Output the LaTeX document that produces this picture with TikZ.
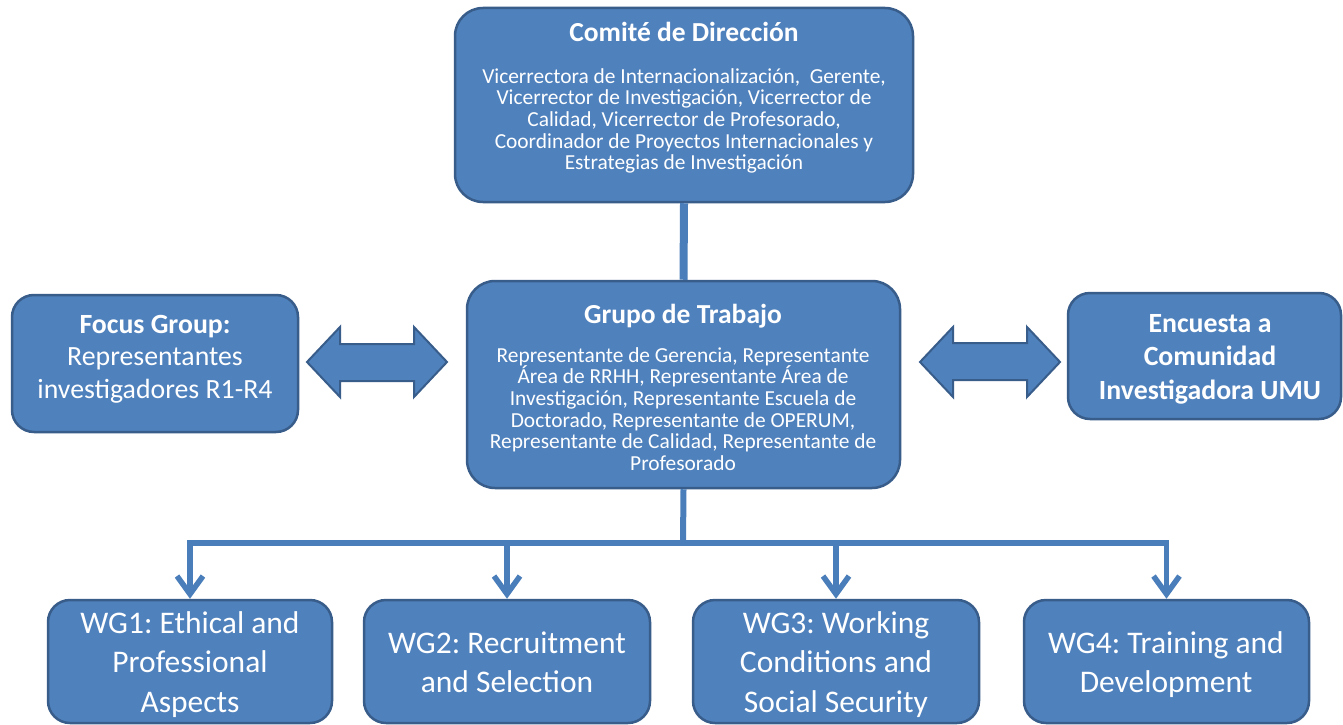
\documentclass[tikz,border=0pt]{standalone}
\usepackage{fontspec}
\setmainfont{Carlito}
\usetikzlibrary{arrows.meta}
\definecolor{boxfill}{RGB}{79,129,189}
\definecolor{boxline}{RGB}{56,93,138}
\definecolor{linkblue}{RGB}{74,126,187}
\frenchspacing
\begin{document}
\frenchspacing
\begin{tikzpicture}[x=1pt,y=-1pt,
  box/.style={draw=boxline, line width=2.5pt, fill=boxfill, rounded corners=22pt, inner sep=0pt},
  txt/.style={text=white, align=center, inner sep=0pt, anchor=base},
  smalltxt/.style={txt, font=\fontsize{21.4}{21.7}\selectfont},
  titletxt/.style={txt, font=\fontsize{27.5}{30}\selectfont\bfseries},
  midtxt/.style={txt, font=\fontsize{27.8}{32.8}\selectfont},
  wgtxt/.style={txt, font=\fontsize{31.5}{39.5}\selectfont},
  link/.style={draw=linkblue, line width=5.5pt},
  blockarrow/.style={fill=boxfill, draw=boxline, line width=2pt},
  tip/.style={-{Straight Barb[length=18pt,width=26pt]}}
]
\useasboundingbox (0,0) rectangle (1343,725);
\fill[white] (0,0) rectangle (1343,725);

% boxes
\node[box, rounded corners=28pt, minimum width=458pt, minimum height=194pt] (comite) at (684,105) {};
\node[box, rounded corners=28pt, minimum width=433pt, minimum height=207pt] (grupo) at (683.5,384.5) {};
\node[box, minimum width=286pt, minimum height=137pt] (focus) at (155,363.5) {};
\node[box, minimum width=273pt, minimum height=126pt] (encuesta) at (1204.5,356) {};
\node[box, minimum width=284pt, minimum height=123pt] (wg1) at (190,661.5) {};
\node[box, minimum width=286pt, minimum height=123pt] (wg2) at (507,661.5) {};
\node[box, minimum width=286pt, minimum height=123pt] (wg3) at (836,661.5) {};
\node[box, minimum width=285pt, minimum height=123pt] (wg4) at (1166.5,661.5) {};

% texts (anchor base = baseline of the last line)
\node[titletxt] (comite-title) at (684,42) {Comité de Dirección};
\node[smalltxt] (comite-body) at (684,169.8) {Vicerrectora de Internacionalización,\ \ Gerente,\\Vicerrector de Investigación, Vicerrector de\\Calidad, Vicerrector de Profesorado,\\Coordinador de Proyectos Internacionales y\\Estrategias de Investigación};
\node[titletxt] (grupo-title) at (683,323) {Grupo de Trabajo};
\node[smalltxt] (grupo-body) at (683,470.5) {Representante de Gerencia, Representante\\Área de RRHH, Representante Área de\\Investigación, Representante Escuela de\\Doctorado, Representante de OPERUM,\\Representante de Calidad, Representante de\\Profesorado};
\node[midtxt] (focus-t) at (155,398.6) {\textbf{Focus Group:}\\Representantes\\investigadores R1-R4};
\node[midtxt, font=\fontsize{27.8}{33.5}\selectfont\bfseries] (encuesta-t) at (1210,399) {Encuesta a\\Comunidad\\Investigadora UMU};
\node[wgtxt] (wg1-t) at (190,712) {WG1: Ethical and\\Professional\\Aspects};
\node[wgtxt] (wg2-t) at (507,692.5) {WG2: Recruitment\\and Selection};
\node[wgtxt] (wg3-t) at (836,712) {WG3: Working\\Conditions and\\Social Security};
\node[wgtxt] (wg4-t) at (1166,692.5) {WG4: Training and\\Development};

% connectors
\draw[link, line width=8pt] (comite.south) -- (grupo.north);
\coordinate (bus) at (683,543);
\draw[link, line width=6pt] (grupo.south) -- (bus);
\draw[link, line cap=rect] (wg1.north |- bus) -- (wg4.north |- bus);
\foreach \w in {wg1,wg2,wg3,wg4}
  \draw[link, tip] (\w.north |- bus) -- (\w.north);

% block double arrows
\draw[blockarrow] (307,362) -- (340,327) -- (340,344) -- (414,344) -- (414,327) -- (447,362)
  -- (414,397) -- (414,381) -- (340,381) -- (340,397) -- cycle;
\draw[blockarrow] (920,362) -- (953,327) -- (953,343) -- (1027,343) -- (1027,327) -- (1060,362)
  -- (1027,397) -- (1027,380) -- (953,380) -- (953,397) -- cycle;
\end{tikzpicture}
\end{document}
